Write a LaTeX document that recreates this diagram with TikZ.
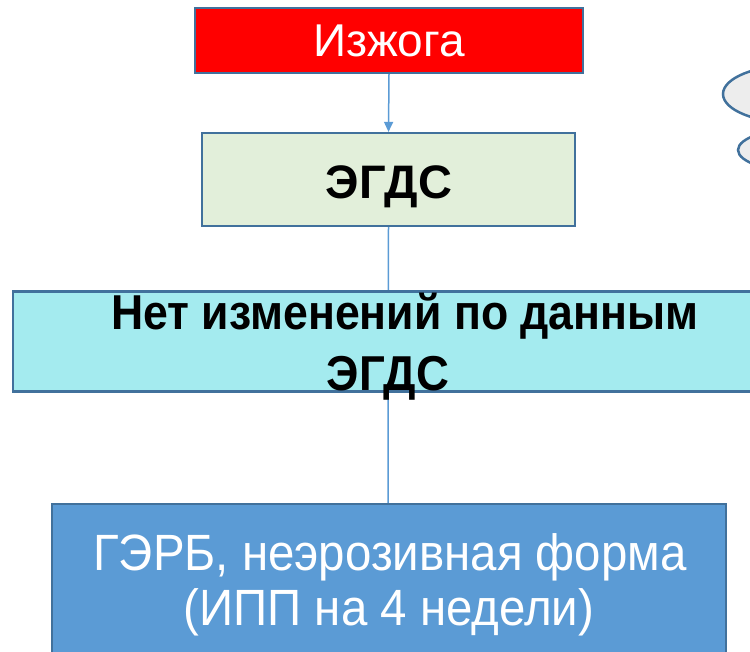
\documentclass[tikz,border=0pt]{standalone}
\usepackage{fontspec}
\setmainfont{Liberation Sans}
\usetikzlibrary{arrows.meta}
\definecolor{bordc}{HTML}{41719C}
\definecolor{linec}{HTML}{5B9BD5}
\definecolor{redc}{HTML}{FF0000}
\definecolor{greenc}{HTML}{E2EFDA}
\definecolor{cyanc}{HTML}{A4EBEF}
\definecolor{bluec}{HTML}{5B9BD5}
\definecolor{greyc}{HTML}{EDEDED}
\tikzset{
  boxst/.style={draw=bordc, line width=2.2pt, inner sep=0pt},
  connst/.style={draw=linec, line width=1.5pt},
  ellst/.style={draw=bordc, fill=greyc, line width=2.5pt},
  txtst/.style={inner sep=0pt, anchor=base},
}
\begin{document}
\begin{tikzpicture}[x=1pt,y=-1pt]
\useasboundingbox (0,0) rectangle (750,652);
\clip (0,0) rectangle (750,652);
% ellipses at the right
\draw[ellst] (795,94) ellipse [x radius=72, y radius=29];
\draw[ellst] (805,150) ellipse [x radius=67, y radius=22];
% boxes
\node[boxst, fill=redc, minimum width=388, minimum height=65] (izh) at (389,40.5) {};
\node[boxst, fill=greenc, minimum width=373, minimum height=93] (egds) at (388.5,179.5) {};
% connector behind the cyan box
\coordinate (gerbtop) at (388,504);
\draw[connst] (egds.south) -- (gerbtop);
\node[boxst, fill=cyanc, minimum width=790, minimum height=100] (nochange) at (408,341.5) {};
\node[boxst, fill=bluec, minimum width=674, minimum height=160] (gerb) at (389,584) {};
\draw[connst, -{Triangle[length=10pt,width=9pt]}] (izh.south) -- (egds.north);
% texts
\node[txtst, text=white, font=\fontsize{46}{55}\selectfont] (izhtxt) at (389,57) {Изжога};
\node[txtst, font=\bfseries\fontsize{47}{56}\selectfont] (egdstxt) at (389,199) {ЭГДС};
\node[txtst, font=\bfseries\fontsize{49}{59}\selectfont] (nc1) at (405,330) {\scalebox{0.91}[1]{Нет изменений по данным}};
\node[txtst, font=\bfseries\fontsize{49}{59}\selectfont] (nc2) at (388,390) {\scalebox{0.93}[1]{ЭГДС}};
\node[txtst, text=white, font=\fontsize{51}{60}\selectfont] (g1) at (390,570) {\scalebox{0.93}[1]{ГЭРБ, неэрозивная форма}};
\node[txtst, text=white, font=\fontsize{51}{60}\selectfont] (g2) at (389,625) {\scalebox{0.93}[1]{(ИПП на 4 недели)}};
\end{tikzpicture}
\end{document}
